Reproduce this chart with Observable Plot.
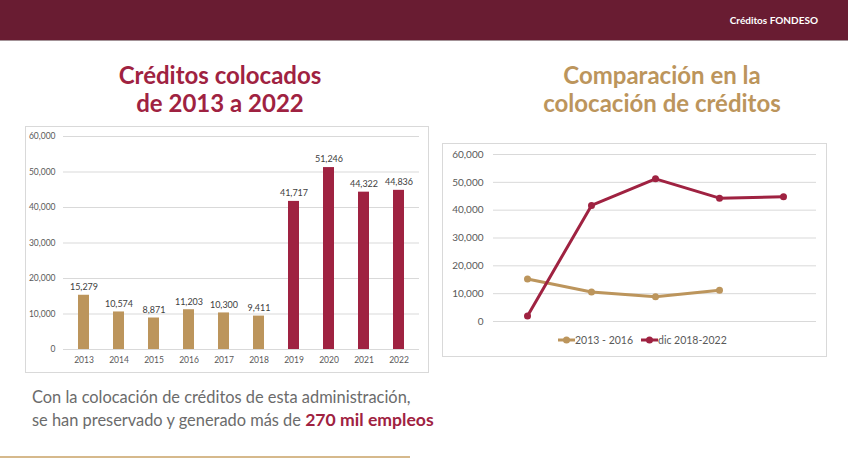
<!DOCTYPE html>
<html><head><meta charset="utf-8">
<script src="https://cdn.jsdelivr.net/npm/d3@7"></script>
<script src="https://cdn.jsdelivr.net/npm/@observablehq/plot@0.6"></script>
<style>
body{margin:0;width:848px;height:476px;background:#fff;position:relative;overflow:hidden;font-family:Lato,"Open Sans",sans-serif}
#header{position:absolute;left:0;top:0;width:848px;height:40px;background:#691c32;border-bottom:1px solid #a39297}
#header span{position:absolute;right:30px;top:14px;color:#fff;font-weight:700;font-size:10px}
.title{position:absolute;font-weight:700;font-size:24px;line-height:28px;text-align:center;width:320px}
#t1{left:60px;top:61px;color:#9f2241}
#t2{left:502px;top:61px;color:#bc955c}
.box{position:absolute;border:1px solid #d9d9d9;background:#fff}
#box1{left:25px;top:126px;width:402px;height:245px}
#box2{left:442px;top:143px;width:383px;height:212px}
.box svg{display:block}
#legend{position:absolute;left:558px;top:334px;display:flex;align-items:center;font-size:10.5px;color:#595959}
#legend .item{display:flex;align-items:center;margin-right:8px}
#note{position:absolute;left:32px;top:386px;font-size:16.4px;line-height:22.5px;color:#6b6b6b}
#note b{color:#9f2241;font-size:17.6px}
#rule{position:absolute;left:0;top:456px;width:410px;height:2px;background:#d6b98c}
</style></head>
<body>
<div id="header"><span>Créditos FONDESO</span></div>
<div class="title" id="t1">Créditos colocados<br>de 2013 a 2022</div>
<div class="title" id="t2">Comparación en la<br>colocación de créditos</div>
<div class="box" id="box1"></div>
<div class="box" id="box2"></div>
<div id="legend"></div>
<div id="note">Con la colocación de créditos de esta administración,<br>se han preservado y generado más de <b>270 mil empleos</b></div>
<div id="rule"></div>
<script>
// ---- data ----
const years = ["2013","2014","2015","2016","2017","2018","2019","2020","2021","2022"];
const credits = [15279,10574,8871,11203,10300,9411,41717,51246,44322,44836];
const barGroups = ["a","a","a","a","a","a","b","b","b","b"];
const yTicks = [0,10000,20000,30000,40000,50000,60000];

const lineSlots = [1,2,3,4,5];
const seriesNames = ["2013 - 2016","dic 2018-2022"];
const seriesA = [15279,10574,8871,11203];
const seriesB = [2000,41717,51246,44322,44836];

const gold = "#bc955c", maroon = "#9f2241";
const fmt = d3.format(",");
const font = "Lato, 'Open Sans', sans-serif";

// ---- bar chart ----
const barData = years.map((y,i)=>({year:y,value:credits[i],group:barGroups[i]}));
const bar = Plot.plot({
  width:402,height:245,marginLeft:37,marginRight:9,marginTop:9,marginBottom:23,
  style:{fontFamily:font,fontSize:"8.5px",color:"#595959",background:"transparent"},
  x:{domain:years,paddingInner:0.69,paddingOuter:0.4,label:null},
  y:{domain:[0,60000],label:null},
  color:{domain:["a","b"],range:[gold,maroon]},
  marks:[
    Plot.ruleY(yTicks,{stroke:"#d9d9d9",strokeWidth:1}),
    Plot.barY(barData,{x:"year",y:"value",fill:"group"}),
    Plot.text(barData,{x:"year",y:"value",text:d=>fmt(d.value),dy:-8,fill:"#404040",fontSize:9}),
    Plot.axisY({ticks:yTicks,tickFormat:fmt,tickSize:0,tickPadding:8,label:null}),
    Plot.axisX({tickSize:0,tickPadding:7,label:null})
  ]
});
document.getElementById("box1").appendChild(bar);

// ---- line chart ----
const lineData = [
  ...seriesA.map((v,i)=>({slot:lineSlots[i],value:v,series:seriesNames[0]})),
  ...seriesB.map((v,i)=>({slot:lineSlots[i],value:v,series:seriesNames[1]}))
];
const line = Plot.plot({
  width:383,height:212,marginLeft:50,marginRight:10,marginTop:10,marginBottom:35,
  style:{fontFamily:font,fontSize:"10px",color:"#595959",background:"transparent"},
  x:{type:"point",domain:lineSlots,padding:0.5,axis:null},
  y:{domain:[0,60000],label:null},
  color:{domain:seriesNames,range:[gold,maroon]},
  marks:[
    Plot.ruleY(yTicks,{stroke:"#d9d9d9",strokeWidth:1}),
    Plot.line(lineData,{x:"slot",y:"value",z:"series",stroke:"series",strokeWidth:3}),
    Plot.dot(lineData,{x:"slot",y:"value",fill:"series",r:3.5}),
    Plot.axisY({ticks:yTicks,tickFormat:fmt,tickSize:0,tickPadding:10,label:null})
  ]
});
document.getElementById("box2").appendChild(line);

// ---- legend ----
const leg = document.getElementById("legend");
seriesNames.forEach((name,i)=>{
  const c = [gold,maroon][i];
  const item = document.createElement("div");
  item.className="item";
  item.innerHTML = `<svg width="17" height="10"><line x1="0" y1="5" x2="17" y2="5" stroke="${c}" stroke-width="3"/><circle cx="8.5" cy="5" r="3.5" fill="${c}"/></svg><span>${name}</span>`;
  leg.appendChild(item);
});
</script>
</body></html>
